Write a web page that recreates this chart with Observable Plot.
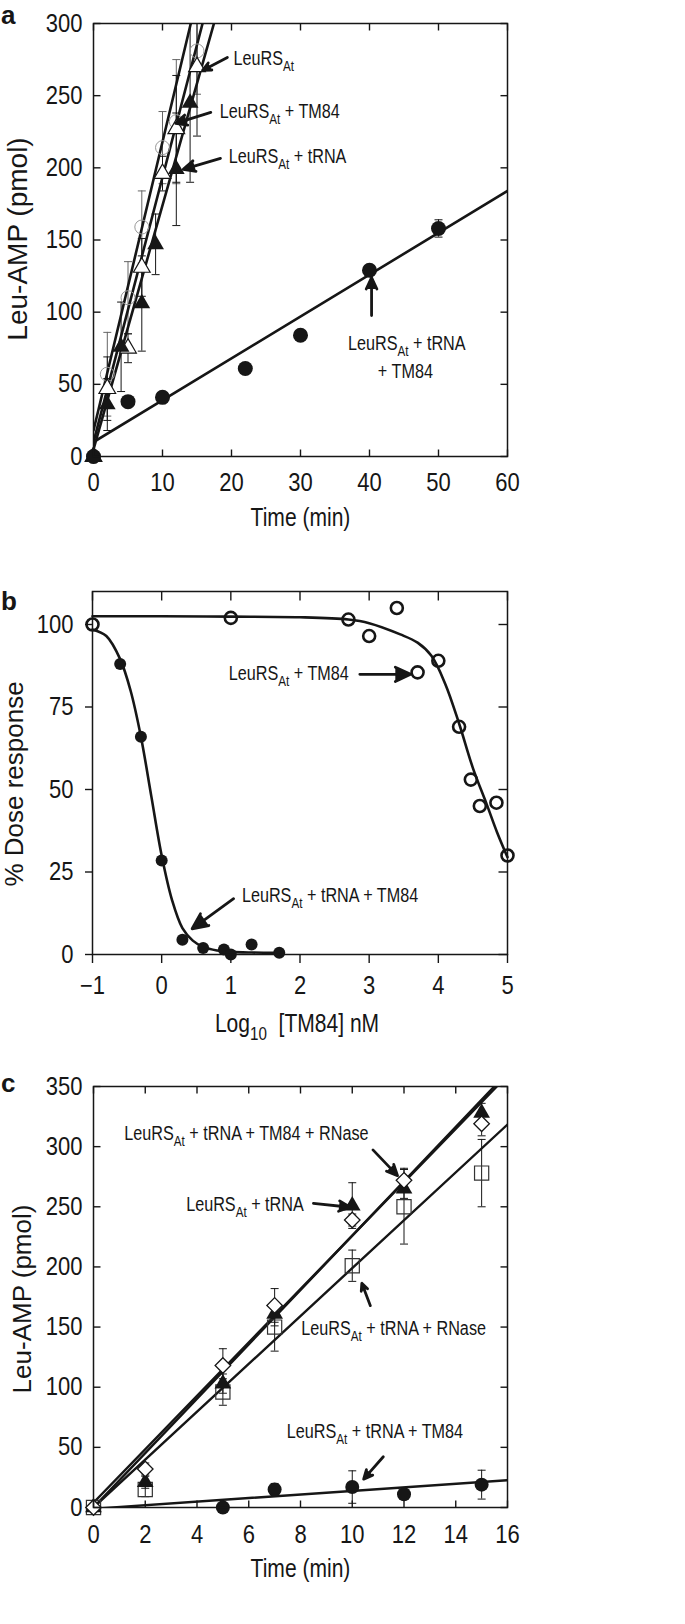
<!DOCTYPE html>
<html><head><meta charset="utf-8">
<script src="https://cdn.jsdelivr.net/npm/d3@7"></script>
<script src="https://cdn.jsdelivr.net/npm/@observablehq/plot@0.6"></script>
<style>
html,body{margin:0;padding:0;background:#fff;}
#page{position:relative;width:685px;height:1624px;overflow:hidden;background:#fff;}
</style></head><body><div id="page"></div>
<script>
// ---------------- Panel a data ----------------
const aTimeOpenCircle = [0, 2, 5, 7, 10, 12, 15];
const aOpenCircle = [0, 57, 110, 159, 214, 232, 281];
const aOpenCircleErr = [0, 29, 25, 25, 25, 43, 30];
const aTimeOpenTri = [0, 2, 5, 7, 10, 12, 15];
const aOpenTri = [0, 47, 75, 131, 196, 227, 270];
const aOpenTriErr = [0, 22, 10, 20, 12, 37, 48];
const aTimeFilledTri = [0, 2, 4, 7, 9, 12, 14];
const aFilledTri = [0, 36, 76, 106, 147, 199, 245];
const aFilledTriErr = [0, 18, 31, 33, 21, 39, 55];
const aTimeFilledCircle = [0, 5, 10, 22, 30, 40, 50];
const aFilledCircle = [0, 38, 41, 61, 84, 129, 158];
const aFilledCircleErr = [0, 0, 0, 0, 0, 0, 6];
// linear fits: open circle, open triangle, filled triangle, filled circle
const aFitIntercept = [18, 10, 5, 10];
const aFitSlope = [20.0, 18.35, 16.9, 2.9];
const aXTicks = [0, 10, 20, 30, 40, 50, 60];
const aYTicks = [0, 50, 100, 150, 200, 250, 300];

// ---------------- Panel b data ----------------
const bLogEnz = [-1, 1, 2.7, 3, 3.4, 3.7, 4, 4.3, 4.47, 4.6, 4.84, 5];
const bRespEnz = [100, 102, 101.5, 96.5, 105, 85.5, 89, 69, 53, 45, 46, 30];
const bLogTRNA = [-0.6, -0.3, 0, 0.3, 0.6, 0.9, 1, 1.3, 1.7];
const bRespTRNA = [88, 66, 28.5, 4.5, 2, 1.5, 0, 3, 0.5];
const bCurveEnzX = [-1, 0, 1, 2, 2.7, 3, 3.45, 3.7, 3.9, 4.1, 4.3, 4.5, 4.7, 4.85, 5];
const bCurveEnzY = [102.5, 102.5, 102.4, 102.2, 101.5, 100.4, 97, 94.5, 90.5, 82, 70, 56.5, 45.5, 37, 29.5];
const bCurveTRNAX = [-1, -0.8, -0.6, -0.45, -0.3, -0.15, 0, 0.15, 0.3, 0.45, 0.6, 0.8, 1.0, 1.3, 1.7];
const bCurveTRNAY = [98.5, 96.5, 89.5, 80, 66, 48, 30, 16.5, 8, 4.2, 2.3, 1.2, 0.8, 0.6, 0.5];
const bXTicks = [-1, 0, 1, 2, 3, 4, 5];
const bYTicks = [0, 25, 50, 75, 100];

// ---------------- Panel c data ----------------
const cTime = [0, 2, 5, 7, 10, 12, 15];
const cTRNA = [0, 21, 103, 161, 251, 265, 328];
const cTRNAErr = [0, 5, 8, 10, 19, 8, 8];
const cRNaseTM84 = [0, 32, 118, 168, 239, 272, 319];
const cRNaseTM84Err = [0, 5, 14, 14, 5, 10, 10];
const cRNase = [0, 15, 96, 150, 201, 250, 278];
const cRNaseErr = [0, 6, 11, 20, 13, 31, 28];
const cTimeTM84 = [5, 7, 10, 12, 15];
const cTM84 = [0, 15, 17, 11, 19];
const cTM84Err = [0, 5, 13.5, 3, 12];
// fits: filled triangle, diamond, square, filled circle
const cFitIntercept = [0, 4, 0, -1.1];
const cFitSlope = [22.6, 22.2, 19.9, 1.49];
const cXTicks = [0, 2, 4, 6, 8, 10, 12, 14, 16];
const cYTicks = [0, 50, 100, 150, 200, 250, 300, 350];

// ---------------- Annotation labels ----------------
const aLabels = ["LeuRS_{At}", "LeuRS_{At} + TM84", "LeuRS_{At} + tRNA"];
const aLabelsMid = ["LeuRS_{At} + tRNA", "+ TM84"];
const bLabels = ["LeuRS_{At} + TM84", "LeuRS_{At} + tRNA + TM84"];
const cLabels = ["LeuRS_{At} + tRNA + TM84 + RNase", "LeuRS_{At} + tRNA", "LeuRS_{At} + tRNA + RNase", "LeuRS_{At} + tRNA + TM84"];

// ---------------- helpers ----------------
const FONT = "'Liberation Sans',Arial,Helvetica,sans-serif";
const INK = "#161616";
const pts = (xs, ys, es) => xs.map((x, i) => ({x, y: ys[i], e: es ? es[i] : 0}));
const fits = (b, m, x0, x1) => b.flatMap((bi, i) => [{s: i, x: x0, y: bi + m[i] * x0}, {s: i, x: x1, y: bi + m[i] * x1}]);
const capSym = {draw(ctx, size) { const w = Math.sqrt(size / Math.PI); ctx.moveTo(-w, 0); ctx.lineTo(w, 0); }};
const tickSym = (dx, dy) => ({draw(ctx) { ctx.moveTo(0, 0); ctx.lineTo(dx, dy); }});
function errMarks(data, stroke = INK) {
  const d = data.filter(p => p.e > 0);
  const caps = d.flatMap(p => [{x: p.x, y: p.y - p.e}, {x: p.x, y: p.y + p.e}]);
  return [
    Plot.ruleX(d, {x: "x", y1: p => p.y - p.e, y2: p => p.y + p.e, stroke, strokeWidth: 1, clip: true}),
    Plot.dot(caps, {x: "x", y: "y", symbol: capSym, r: 4, stroke, strokeWidth: 1, fill: "none", clip: true})
  ];
}
function innerTicks(xt, yt, sides, len) {
  const m = [];
  const o = {stroke: INK, strokeWidth: 1.4, fill: "none"};
  if (sides.includes("bottom")) m.push(Plot.dot(xt, {x: d => d, frameAnchor: "bottom", symbol: tickSym(0, -len), ...o}));
  if (sides.includes("top")) m.push(Plot.dot(xt, {x: d => d, frameAnchor: "top", symbol: tickSym(0, len), ...o}));
  if (sides.includes("left")) m.push(Plot.dot(yt, {y: d => d, frameAnchor: "left", symbol: tickSym(len, 0), ...o}));
  if (sides.includes("right")) m.push(Plot.dot(yt, {y: d => d, frameAnchor: "right", symbol: tickSym(-len, 0), ...o}));
  return m;
}
function annot(xs, ys, labels, anchor = "start") {
  return Plot.text(labels.map((t, i) => ({x: xs[i], y: ys[i], t})), {x: "x", y: "y", text: "t", textAnchor: anchor, lineAnchor: "middle", fontSize: 20, fontFamily: FONT, fill: INK});
}
function arrows(x1, y1, x2, y2, head = 15) {
  return Plot.arrow(x1.map((v, i) => ({x1: v, y1: y1[i], x2: x2[i], y2: y2[i]})), {x1: "x1", y1: "y1", x2: "x2", y2: "y2", stroke: INK, fill: INK, strokeWidth: 2.8, headLength: head, headAngle: 50});
}
function yLabel(text, dx, dy, size) {
  return Plot.text([text], {frameAnchor: "left", dx, dy, rotate: -90, textAnchor: "middle", lineAnchor: "middle", fontSize: size, fontFamily: FONT, fill: INK});
}
function xLabel(text, dx, dy, size) {
  return Plot.text([text], {frameAnchor: "bottom", dx, dy, textAnchor: "middle", lineAnchor: "middle", fontSize: size, fontFamily: FONT, fill: INK});
}
const baseStyle = {fontFamily: FONT, color: INK, background: "transparent", overflow: "visible"};

const page = document.getElementById("page");
function place(svg, top) { svg.style.position = "absolute"; svg.style.left = "0px"; svg.style.top = top + "px"; page.appendChild(svg); }

function subscriptify(svg) {
  svg.querySelectorAll("text").forEach(t => {
    const s = t.textContent;
    if (!s.includes("_{")) return;
    const fs = parseFloat(getComputedStyle(t).fontSize) || 20;
    const shift = 0.3 * fs;
    while (t.firstChild) t.removeChild(t.firstChild);
    const re = /_\{([^}]*)\}/g;
    let last = 0, m, pending = 0;
    const add = (txt, sub) => {
      const sp = document.createElementNS("http://www.w3.org/2000/svg", "tspan");
      sp.textContent = txt;
      if (sub) { sp.setAttribute("dy", shift); sp.setAttribute("font-size", 0.72 * fs); pending = -shift; }
      else if (pending) { sp.setAttribute("dy", pending); pending = 0; }
      t.appendChild(sp);
    };
    while ((m = re.exec(s))) {
      if (m.index > last) add(s.slice(last, m.index), false);
      add(m[1], true);
      last = re.lastIndex;
    }
    if (last < s.length) add(s.slice(last), false);
  });
}
// the original typeface is a condensed sans: squeeze horizontal texts about their anchor
function condense(svg) {
  svg.querySelectorAll("text").forEach(t => {
    const tr = t.getAttribute("transform") || "";
    if (tr.includes("rotate")) return;
    const isTick = !!t.closest('[aria-label$="tick label"]');
    const f = isTick ? 0.88 : 0.81;
    const ax = parseFloat(t.getAttribute("x")) || 0;
    t.setAttribute("transform", `${tr} translate(${ax},0) scale(${f},1) translate(${-ax},0)`.trim());
  });
}

// ---------------- Panel a ----------------
const aOC = pts(aTimeOpenCircle, aOpenCircle, aOpenCircleErr);
const aOT = pts(aTimeOpenTri, aOpenTri, aOpenTriErr);
const aFT = pts(aTimeFilledTri, aFilledTri, aFilledTriErr);
const aFC = pts(aTimeFilledCircle, aFilledCircle, aFilledCircleErr);
const plotA = Plot.plot({
  width: 685, height: 525,
  marginLeft: 93, marginRight: 178, marginTop: 23, marginBottom: 69,
  x: {domain: [0, 60]}, y: {domain: [0, 300]},
  style: baseStyle,
  marks: [
    ...errMarks(aOC, "#666"),
    ...errMarks(aOT), ...errMarks(aFT), ...errMarks(aFC),
    Plot.line(fits(aFitIntercept, aFitSlope, 0, 60), {x: "x", y: "y", z: "s", stroke: INK, strokeWidth: 2.6, clip: true}),
    Plot.dot(aOC, {x: "x", y: "y", r: 7, stroke: "#999", strokeWidth: 1, fill: "none"}),
    Plot.dot(aOT, {x: "x", y: "y", symbol: "triangle", r: 6.2, stroke: INK, strokeWidth: 1.2, fill: "white"}),
    Plot.dot(aFT, {x: "x", y: "y", symbol: "triangle", r: 6.2, fill: INK, stroke: "none"}),
    Plot.dot(aFC, {x: "x", y: "y", r: 7.5, fill: INK, stroke: "none"}),
    Plot.frame({stroke: INK, strokeWidth: 1.5}),
    ...innerTicks(aXTicks, aYTicks, ["bottom", "top", "left", "right"], 7),
    Plot.axisX(aXTicks, {anchor: "bottom", tickSize: 0, tickPadding: 17, fontSize: 25, fontFamily: FONT, label: null}),
    Plot.axisY(aYTicks, {anchor: "left", tickSize: 0, tickPadding: 11, fontSize: 25, fontFamily: FONT, label: null}),
    xLabel("Time (min)", 0, 61, 26),
    yLabel("Leu-AMP (pmol)", -75, -1, 28),
    arrows([19.4, 17.0, 18.4, 40.3], [276.5, 238.4, 206.5, 97.7], [15.8, 11.9, 13.0, 40.3], [267.5, 230.8, 198.9, 124]),
    annot([20.3, 18.3, 19.6], [276, 239, 207.5], aLabels),
    annot([45.4, 45.2], [78, 58.5], aLabelsMid, "middle")
  ]
});
place(plotA, 0);

// ---------------- Panel b ----------------
const bEnz = pts(bLogEnz, bRespEnz);
const bTR = pts(bLogTRNA, bRespTRNA);
const plotB = Plot.plot({
  width: 685, height: 500,
  marginLeft: 92, marginRight: 178, marginTop: 51, marginBottom: 86,
  x: {domain: [-1, 5]}, y: {domain: [0, 110]},
  style: baseStyle,
  marks: [
    Plot.line(pts(bCurveEnzX, bCurveEnzY), {x: "x", y: "y", curve: "catmull-rom", stroke: INK, strokeWidth: 2.6}),
    Plot.line(pts(bCurveTRNAX, bCurveTRNAY), {x: "x", y: "y", curve: "catmull-rom", stroke: INK, strokeWidth: 2.6}),
    Plot.dot(bTR, {x: "x", y: "y", r: 6, fill: INK, stroke: "none"}),
    Plot.dot(bEnz, {x: "x", y: "y", r: 6, fill: "none", stroke: INK, strokeWidth: 2.6}),
    Plot.frame({stroke: INK, strokeWidth: 1.5}),
    ...innerTicks(bXTicks, bYTicks, ["top", "right"], 9),
    Plot.axisX(bXTicks, {anchor: "bottom", tickSize: 9, tickPadding: 13, strokeWidth: 1.4, fontSize: 25, fontFamily: FONT, label: null}),
    Plot.axisY(bYTicks, {anchor: "left", tickSize: 7, tickPadding: 12, strokeWidth: 1.4, fontSize: 25, fontFamily: FONT, label: null}),
    xLabel("Log_{10}  [TM84] nM", -3, 69, 26),
    yLabel("% Dose response", -78, 11, 26),
    arrows([2.865, 1.04], [84.9, 16.9], [3.6, 0.44], [84.9, 7.8], 18),
    annot([0.97, 1.16], [85, 17.9], bLabels)
  ]
});
place(plotB, 540);

// ---------------- Panel c ----------------
const cTR = pts(cTime, cTRNA, cTRNAErr);
const cDM = pts(cTime, cRNaseTM84, cRNaseTM84Err);
const cSQ = pts(cTime, cRNase, cRNaseErr);
const cFC = pts(cTimeTM84, cTM84, cTM84Err);
const plotC = Plot.plot({
  width: 685, height: 564,
  marginLeft: 93, marginRight: 178, marginTop: 26, marginBottom: 117,
  x: {domain: [0, 16]}, y: {domain: [0, 350]},
  style: baseStyle,
  marks: [
    Plot.line(fits(cFitIntercept, cFitSlope, 0, 16), {x: "x", y: "y", z: "s", stroke: INK, strokeWidth: 2.4, clip: true}),
    ...errMarks(cSQ), ...errMarks(cDM), ...errMarks(cTR), ...errMarks(cFC),
    Plot.dot(cSQ, {x: "x", y: "y", symbol: "square", r: 8, fill: "none", stroke: "#333", strokeWidth: 1.2}),
    Plot.dot(cTR, {x: "x", y: "y", symbol: "triangle", r: 6.2, fill: INK, stroke: "none"}),
    Plot.dot(cDM, {x: "x", y: "y", symbol: "diamond2", r: 7, fill: "white", stroke: INK, strokeWidth: 1.3}),
    Plot.dot(cFC, {x: "x", y: "y", r: 7, fill: INK, stroke: "none"}),
    Plot.frame({stroke: INK, strokeWidth: 1.5}),
    ...innerTicks(cXTicks, cYTicks, ["bottom", "top", "left", "right"], 7),
    Plot.axisX(cXTicks, {anchor: "bottom", tickSize: 0, tickPadding: 18, fontSize: 25, fontFamily: FONT, label: null}),
    Plot.axisY(cYTicks, {anchor: "left", tickSize: 0, tickPadding: 11, fontSize: 25, fontFamily: FONT, label: null}),
    xLabel("Time (min)", 0, 61, 26),
    yLabel("Leu-AMP (pmol)", -71, 2, 26),
    arrows([10.8, 8.5, 10.7, 11.2], [297.3, 252.9, 167.8, 42.2], [11.75, 9.92, 10.37, 10.44], [275.9, 249.6, 186.4, 23.6]),
    annot([1.19, 3.58, 8.03, 7.47], [311, 252, 149, 63], cLabels)
  ]
});
place(plotC, 1060);

[plotA, plotB, plotC].forEach(s => { subscriptify(s); condense(s); });

// panel letters
const ov = d3.select(page).append("svg").attr("width", 685).attr("height", 1624)
  .style("position", "absolute").style("left", 0).style("top", 0).style("pointer-events", "none");
ov.selectAll("text").data([["a", 24], ["b", 610], ["c", 1092]]).join("text")
  .attr("x", 1).attr("y", d => d[1]).text(d => d[0])
  .attr("font-family", FONT).attr("font-weight", "bold").attr("font-size", 26).attr("fill", INK);
</script></body></html>
